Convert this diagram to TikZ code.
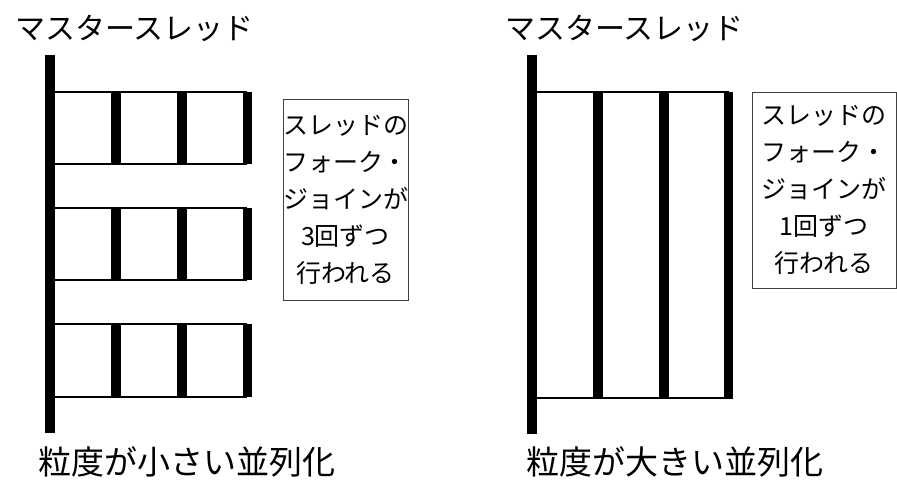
\documentclass[tikz,border=0pt]{standalone}
\usepackage{fontspec}
\newfontfamily\jp{Noto Sans CJK JP}
\begin{document}
\begin{tikzpicture}[x=1pt,y=-1pt,
  thinline/.style={line width=2pt,black},
  bar/.style={fill=black},
  title/.style={anchor=west,inner sep=0pt,font=\jp\fontsize{30}{36}\selectfont},
  caption/.style={anchor=west,inner sep=0pt,font=\jp\fontsize{33}{40}\selectfont},
  notebox/.style={draw=black!75,line width=1pt,inner sep=0pt,align=center,
    font=\jp\fontsize{25}{37}\selectfont}]
\useasboundingbox (0,0) rectangle (897,482);
% ---------- left diagram ----------
\node[title] (tl) at (15,28) {マスタースレッド};
\foreach \t/\b in {92/164,208/280,324/397}{
  \draw[thinline] (55,\t) -- (247,\t);
  \draw[thinline] (55,\b) -- (247,\b);
  \fill[bar] (111,\t) rectangle (121,\b);
  \fill[bar] (177,\t) rectangle (187,\b);
  \fill[bar] (243,\t) rectangle (252,\b);
}
\fill[bar] (45,55) rectangle (55,433);
\node[notebox,minimum width=125pt,minimum height=201pt] (nl) at (345.5,199.5)
  {スレッドの\\フォーク・\\ジョインが\\3回ずつ\\行われる};
\node[caption] (cl) at (38,462) {粒度が小さい並列化};
% ---------- right diagram ----------
\node[title] (tr) at (505,28) {マスタースレッド};
\draw[thinline] (537,92) -- (729,92);
\draw[thinline] (537,398) -- (729,398);
\fill[bar] (593,92) rectangle (603,398);
\fill[bar] (659,92) rectangle (669,398);
\fill[bar] (724,92) rectangle (733,399);
\fill[bar] (527,55) rectangle (537,434);
\node[notebox,minimum width=144pt,minimum height=196pt] (nr) at (824,190)
  {スレッドの\\フォーク・\\ジョインが\\1回ずつ\\行われる};
\node[caption] (cr) at (526,462) {粒度が大きい並列化};
\end{tikzpicture}
\end{document}
